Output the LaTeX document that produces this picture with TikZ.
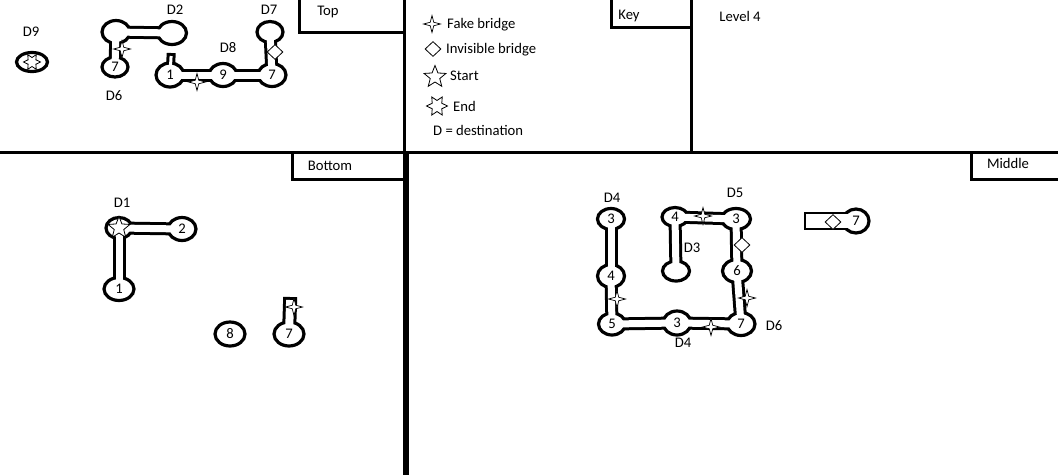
\documentclass[tikz,border=0pt]{standalone}
\usepackage{fontspec}
\setmainfont{Carlito}
\usetikzlibrary{shapes.geometric}
\begin{document}
\begin{tikzpicture}[x=1pt,y=-1pt]
\tikzset{
  wall/.style={line width=3pt, line cap=rect},
  corout/.style={line width=13pt, line cap=rect, draw=black},
  corin/.style={line width=7pt, line cap=rect, draw=white},
  room/.style 2 args={ellipse, draw=black, line width=3.2pt, fill=white, inner sep=0pt,
    minimum width={#1pt-2pt}, minimum height={#2pt-2pt}},
  lbl/.style={inner sep=0pt, text height=9.4pt, text depth=0pt, font=\fontsize{14.67}{17}\selectfont},
  lblw/.style={lbl, anchor=west},
  fake/.style={star, star points=4, star point ratio=3.4, draw, fill=white, line width=0.7pt,
    inner sep=0pt, minimum size=17pt},
  invis/.style={diamond, draw, fill=white, line width=0.8pt, inner sep=0pt,
    minimum width=16pt, minimum height=15pt},
  startmark/.style={star, star points=5, star point ratio=2.3, draw, fill=white, line width=0.8pt,
    inner sep=0pt, minimum size=23pt},
  endmark/.style={star, star points=6, star point ratio=1.9, draw, fill=white, line width=0.8pt,
    inner sep=0pt, minimum size=21pt, shape border rotate=90}
}
\useasboundingbox (0,0) rectangle (1058,475);
\fill[white] (0,0) rectangle (1058,475);

% ---------- frame ----------
\draw[line width=3pt] (404,0) -- (404,152);
\draw[line width=6pt] (406,152) -- (406,475);
\draw[line width=3pt] (691,0) -- (691,152);
\draw[line width=3pt] (0,152) -- (1058,152);
\draw[line width=3pt] (299,0) -- (299,32) -- (404,32);
\draw[line width=3pt] (611,0) -- (611,27) -- (691,27);
\draw[line width=3pt] (292,152) -- (292,179) -- (404,179);
\draw[line width=3pt] (971,152) -- (971,179) -- (1058,179);

\node[lbl] (ttop) at (328,11) {Top};
\node[lbl] (tkey) at (629,15) {Key};
\node[lbl] (tlev) at (740,17) {Level 4};
\node[lbl] (tbot) at (330,166) {Bottom};
\node[lbl] (tmid) at (1008,164) {Middle};

% ---------- key ----------
\node[fake] (kfake) at (432,24) {};
\node[lblw] (kfaket) at (447,24) {Fake bridge};
\node[invis] (kinv) at (433,49) {};
\node[lblw] (kinvt) at (446,49) {Invisible bridge};
\node[startmark] (kstart) at (435,77) {};
\node[lblw] (kstartt) at (450,76) {Start};
\node[endmark] (kend) at (437,106) {};
\node[lblw] (kendt) at (453,107) {End};
\node[lblw] (kdest) at (433,131) {D = destination};

% ---------- room centres ----------
% top
\coordinate (tA) at (116,32);
\coordinate (tD2) at (172,33);
\coordinate (t7a) at (115,67);
\coordinate (t1) at (170,75);
\coordinate (t9) at (223,75);
\coordinate (t7b) at (272,75);
\coordinate (tD7) at (270,32);
\coordinate (tD9) at (32,62);
\coordinate (t1s) at (171,57.5);
% bottom
\coordinate (bD1) at (119,228);
\coordinate (b2) at (182,229);
\coordinate (b1) at (119,289);
\coordinate (b8) at (230,334);
\coordinate (b7) at (289,334);
\coordinate (b7s) at (290,304);
% middle
\coordinate (m3a) at (611,219);
\coordinate (m4a) at (611,276);
\coordinate (m5) at (612,324);
\coordinate (m3b) at (677,323);
\coordinate (m7) at (741,324);
\coordinate (m6) at (737,271);
\coordinate (m3c) at (736,219);
\coordinate (m4b) at (675,217);
\coordinate (mD3) at (676,271);
\coordinate (m7r) at (856,221);
\coordinate (m7rs) at (812.5,221);

% ---------- corridor walls ----------
\draw[corout] (tA) -- (tD2);
\draw[corout] (tA) -- (t7a);
\draw[corout] (t1) -- (t9);
\draw[corout] (t9) -- (t7b);
\draw[corout] (tD7) -- (t7b);
\draw[corout, line width=9pt] (t1) -- (t1s);
\draw[corout] (bD1) -- (b2);
\draw[corout] (bD1) -- (b1);
\draw[corout, line width=14pt] (b7) -- (b7s);
\draw[corout] (m3a) -- (m4a);
\draw[corout] (m4a) -- (m5);
\draw[corout] (m5) -- (m3b);
\draw[corout] (m3b) -- (m7);
\draw[corout] (m7) -- (m6);
\draw[corout] (m6) -- (m3c);
\draw[corout] (m3c) -- (m4b);
\draw[corout] (m4b) -- (mD3);
\draw[corout, line width=18pt] (m7r) -- (m7rs);

% ---------- rooms ----------
\node[room={30}{25}] (tA-r) at (tA) {};
\node[room={31}{25}] (tD2-r) at (tD2) {};
\node[room={28}{22}] (t7a-r) at (t7a) {};
\node[room={30}{26}] (t1-r) at (t1) {};
\node[room={30}{25}] (t9-r) at (t9) {};
\node[room={30}{25}] (t7b-r) at (t7b) {};
\node[room={28}{23}] (tD7-r) at (tD7) {};
\node[room={33}{21}] (tD9-r) at (tD9) {};
\node[room={28}{23}] (bD1-r) at (bD1) {};
\node[room={30}{25}] (b2-r) at (b2) {};
\node[room={32}{25}] (b1-r) at (b1) {};
\node[room={32}{26}] (b8-r) at (b8) {};
\node[room={32}{26}] (b7-r) at (b7) {};
\node[room={29}{23}] (m3a-r) at (m3a) {};
\node[room={29}{25}] (m4a-r) at (m4a) {};
\node[room={29}{24}] (m5-r) at (m5) {};
\node[room={30}{26}] (m3b-r) at (m3b) {};
\node[room={30}{25}] (m7-r) at (m7) {};
\node[room={31}{25}] (m6-r) at (m6) {};
\node[room={31}{23}] (m3c-r) at (m3c) {};
\node[room={28}{21}] (m4b-r) at (m4b) {};
\node[room={29}{22}] (mD3-r) at (mD3) {};
\node[room={28}{26}] (m7r-r) at (m7r) {};

% ---------- corridor floors ----------
\draw[corin] (tA) -- (tD2);
\draw[corin] (tA) -- (t7a);
\draw[corin] (t1) -- (t9);
\draw[corin] (t9) -- (t7b);
\draw[corin] (tD7) -- (t7b);
\draw[corin, line width=3pt] (t1) -- (t1s);
\draw[corin] (bD1) -- (b2);
\draw[corin] (bD1) -- (b1);
\draw[corin, line width=8pt] (b7) -- (b7s);
\draw[corin] (m3a) -- (m4a);
\draw[corin] (m4a) -- (m5);
\draw[corin] (m5) -- (m3b);
\draw[corin] (m3b) -- (m7);
\draw[corin] (m7) -- (m6);
\draw[corin] (m6) -- (m3c);
\draw[corin] (m3c) -- (m4b);
\draw[corin] (m4b) -- (mD3);
\draw[corin, line width=14pt] (m7r) -- (m7rs);

% ---------- bridges and marks ----------
\node[fake] (f1) at (122,49) {};
\node[fake] (f2) at (197,82) {};
\node[fake] (f3) at (294,307) {};
\node[fake] (f4) at (617,299) {};
\node[fake] (f5) at (711,327) {};
\node[fake] (f6) at (747,298) {};
\node[fake] (f7) at (703,216) {};
\node[invis] (i1) at (275,52) {};
\node[invis] (i2) at (742,245) {};
\node[invis] (i3) at (833,222) {};
\node[startmark] (s1) at (bD1) {};
\node[endmark, minimum size=17pt] (e1) at (tD9) {};

% ---------- room numbers ----------
\node[lbl] (t7a-n) at (t7a) {7};
\node[lbl] (t1-n) at (t1) {1};
\node[lbl] (t9-n) at (t9) {9};
\node[lbl] (t7b-n) at (t7b) {7};
\node[lbl] (b2-n) at (b2) {2};
\node[lbl] (b1-n) at (b1) {1};
\node[lbl] (b8-n) at (b8) {8};
\node[lbl] (b7-n) at (b7) {7};
\node[lbl] (m3a-n) at (m3a) {3};
\node[lbl] (m4a-n) at (m4a) {4};
\node[lbl] (m5-n) at (m5) {5};
\node[lbl] (m3b-n) at (m3b) {3};
\node[lbl] (m7-n) at (m7) {7};
\node[lbl] (m6-n) at (m6) {6};
\node[lbl] (m3c-n) at (m3c) {3};
\node[lbl] (m4b-n) at (m4b) {4};
\node[lbl] (m7r-n) at (m7r) {7};

% ---------- destination labels ----------
\node[lbl] (dD9) at (31,32) {D9};
\node[lbl] (dD2) at (175,10) {D2};
\node[lbl] (dD6a) at (114,96) {D6};
\node[lbl] (dD7) at (269,10) {D7};
\node[lbl] (dD8) at (228,48) {D8};
\node[lbl] (dD1) at (122,203) {D1};
\node[lbl] (dD4a) at (612,198) {D4};
\node[lbl] (dD5) at (735,193) {D5};
\node[lbl] (dD3) at (692,248) {D3};
\node[lbl] (dD4b) at (683,343) {D4};
\node[lbl] (dD6b) at (774,326) {D6};
\end{tikzpicture}
\end{document}
